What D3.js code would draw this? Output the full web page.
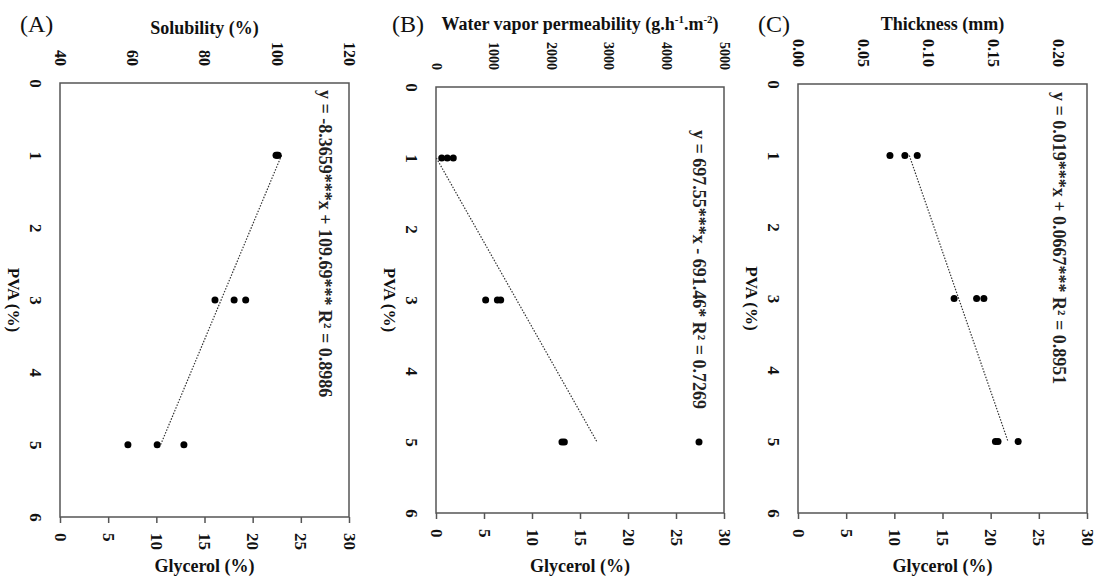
<!DOCTYPE html>
<html>
<head>
<meta charset="utf-8">
<script src="https://cdn.jsdelivr.net/npm/d3@7"></script>
<style>
  body { margin: 0; background: #fff; }
  svg { display: block; font-family: "Liberation Serif", "Times New Roman", serif; }
  .tick text { font-family: "Liberation Serif", "Times New Roman", serif; font-weight: bold; fill: #111; }
</style>
</head>
<body>
<div id="chart"></div>
<script>
// data
const pva = [1, 1, 1, 3, 3, 3, 5, 5, 5];
const solubility = [99.8, 100.1, 100.4, 82.9, 88.2, 91.4, 58.8, 66.9, 74.3];
const wvp = [99, 196, 300, 862, 1066, 1123, 2187, 2228, 4566];
const thickness = [0.0708, 0.0823, 0.0918, 0.1202, 0.1375, 0.1431, 0.152, 0.154, 0.1695];

const pvaTicks = [0, 1, 2, 3, 4, 5, 6];
const glycerolTicks = [0, 5, 10, 15, 20, 25, 30];
const solubilityTicks = [40, 60, 80, 100, 120];
const wvpTicks = [0, 1000, 2000, 3000, 4000, 5000];
const thicknessTicks = [0, 0.05, 0.10, 0.15, 0.20];

const fitSlope = [-8.3659, 697.55, 0.019];
const fitIntercept = [109.69, -691.46, 0.0667];
const fitRange = [1, 5];
const equations = [
  "y = -8.3659***x + 109.69*** R² = 0.8986",
  "y = 697.55***x - 691.46* R² = 0.7269",
  "y = 0.019***x + 0.0667*** R² = 0.8951"
];

const width = 1097, height = 577;

const svg = d3.select("#chart")
  .append("svg")
  .attr("width", width)
  .attr("height", height);

const panels = [
  { tag: "(A)", tagX: 20, title: "Solubility (%)", values: solubility, ticks: solubilityTicks,
    domain: [40, 120], fmt: d3.format("d"), left: 60, right: 349, top: 83, bottom: 517,
    tickSize: 16, eqX: 325, eqY: 90, titleY: 34 },
  { tag: "(B)", tagX: 392, title: null, values: wvp, ticks: wvpTicks,
    domain: [0, 5000], fmt: d3.format("d"), left: 436, right: 724, top: 87, bottom: 513,
    tickSize: 14, eqX: 699, eqY: 130, titleY: 30 },
  { tag: "(C)", tagX: 758, title: "Thickness (mm)", values: thickness, ticks: thicknessTicks,
    domain: [0, 0.2225], fmt: d3.format(".2f"), left: 798, right: 1087, top: 84, bottom: 513,
    tickSize: 16, eqX: 1059, eqY: 92, titleY: 30 }
];

panels.forEach((p, i) => {
  const g = svg.append("g");

  const x = d3.scaleLinear().domain(p.domain).range([p.left, p.right]);
  const y = d3.scaleLinear().domain([0, 6]).range([p.top, p.bottom]);
  const gx = d3.scaleLinear().domain([0, 30]).range([p.left, p.right]);

  // panel tag
  g.append("text")
    .attr("x", p.tagX)
    .attr("y", 32)
    .attr("font-size", 24)
    .attr("fill", "#111")
    .text(p.tag);

  // top title
  const cx = (p.left + p.right) / 2;
  if (p.title) {
    g.append("text")
      .attr("x", cx)
      .attr("y", p.titleY)
      .attr("text-anchor", "middle")
      .attr("font-size", 18)
      .attr("font-weight", "bold")
      .attr("fill", "#111")
      .text(p.title);
  } else {
    const t = g.append("text")
      .attr("x", cx)
      .attr("y", p.titleY)
      .attr("text-anchor", "middle")
      .attr("font-size", 18)
      .attr("font-weight", "bold")
      .attr("fill", "#111");
    t.append("tspan").text("Water vapor permeability (g.h");
    t.append("tspan").attr("dy", -7).attr("font-size", 11).text("-1");
    t.append("tspan").attr("dy", 7).text(".m");
    t.append("tspan").attr("dy", -7).attr("font-size", 11).text("-2");
    t.append("tspan").attr("dy", 7).text(")");
  }

  // top value axis
  const topAxis = g.append("g")
    .attr("transform", `translate(0,${p.top})`)
    .call(d3.axisTop(x).tickValues(p.ticks).tickFormat(p.fmt).tickSize(0))
    .attr("font-family", null);
  topAxis.select(".domain").remove();
  topAxis.selectAll("text")
    .attr("transform", "rotate(90)")
    .attr("x", -17).attr("y", 0).attr("dy", "0.35em")
    .attr("text-anchor", "end")
    .attr("font-size", p.tickSize);

  // left PVA axis
  const leftAxis = g.append("g")
    .attr("transform", `translate(${p.left},0)`)
    .call(d3.axisLeft(y).tickValues(pvaTicks).tickFormat(d3.format("d")).tickSize(0))
    .attr("font-family", null);
  leftAxis.select(".domain").remove();
  leftAxis.selectAll("text")
    .attr("transform", "rotate(90)")
    .attr("x", 0).attr("y", 24).attr("dy", "0.35em")
    .attr("text-anchor", "middle")
    .attr("font-size", 17);

  g.append("text")
    .attr("transform", `translate(${p.left - 46},${(p.top + p.bottom) / 2}) rotate(90)`)
    .attr("dy", "0.35em")
    .attr("text-anchor", "middle")
    .attr("font-size", 17)
    .attr("font-weight", "bold")
    .attr("fill", "#111")
    .text("PVA (%)");

  // bottom glycerol axis
  const bottomAxis = g.append("g")
    .attr("transform", `translate(0,${p.bottom})`)
    .call(d3.axisBottom(gx).tickValues(glycerolTicks).tickSize(6))
    .attr("font-family", null);
  bottomAxis.select(".domain").remove();
  bottomAxis.selectAll("line").attr("stroke", "#555").attr("stroke-width", 1.5);
  bottomAxis.selectAll("text")
    .attr("transform", "rotate(90)")
    .attr("x", 16).attr("y", 0).attr("dy", "0.35em")
    .attr("text-anchor", "start")
    .attr("font-size", 17);

  g.append("text")
    .attr("x", cx)
    .attr("y", 572)
    .attr("text-anchor", "middle")
    .attr("font-size", 18)
    .attr("font-weight", "bold")
    .attr("fill", "#111")
    .text("Glycerol (%)");

  // frame
  g.append("rect")
    .attr("x", p.left)
    .attr("y", p.top)
    .attr("width", p.right - p.left)
    .attr("height", p.bottom - p.top)
    .attr("fill", "none")
    .attr("stroke", "#555")
    .attr("stroke-width", 1.5);

  // trend line
  const line = d3.line()
    .x(d => x(fitSlope[i] * d + fitIntercept[i]))
    .y(d => y(d));
  g.append("path")
    .attr("d", line(fitRange))
    .attr("fill", "none")
    .attr("stroke", "#333")
    .attr("stroke-width", 1.2)
    .attr("stroke-dasharray", "1.5,1.5");

  // points
  g.selectAll("circle")
    .data(p.values)
    .enter()
    .append("circle")
    .attr("cx", d => x(d))
    .attr("cy", (d, j) => y(pva[j]))
    .attr("r", 3.5)
    .attr("fill", "#000");

  // equation
  g.append("text")
    .attr("transform", `translate(${p.eqX},${p.eqY}) rotate(90)`)
    .attr("dy", "0.35em")
    .attr("text-anchor", "start")
    .attr("font-size", 18)
    .attr("font-weight", "bold")
    .attr("fill", "#222")
    .text(equations[i]);
});
</script>
</body>
</html>
